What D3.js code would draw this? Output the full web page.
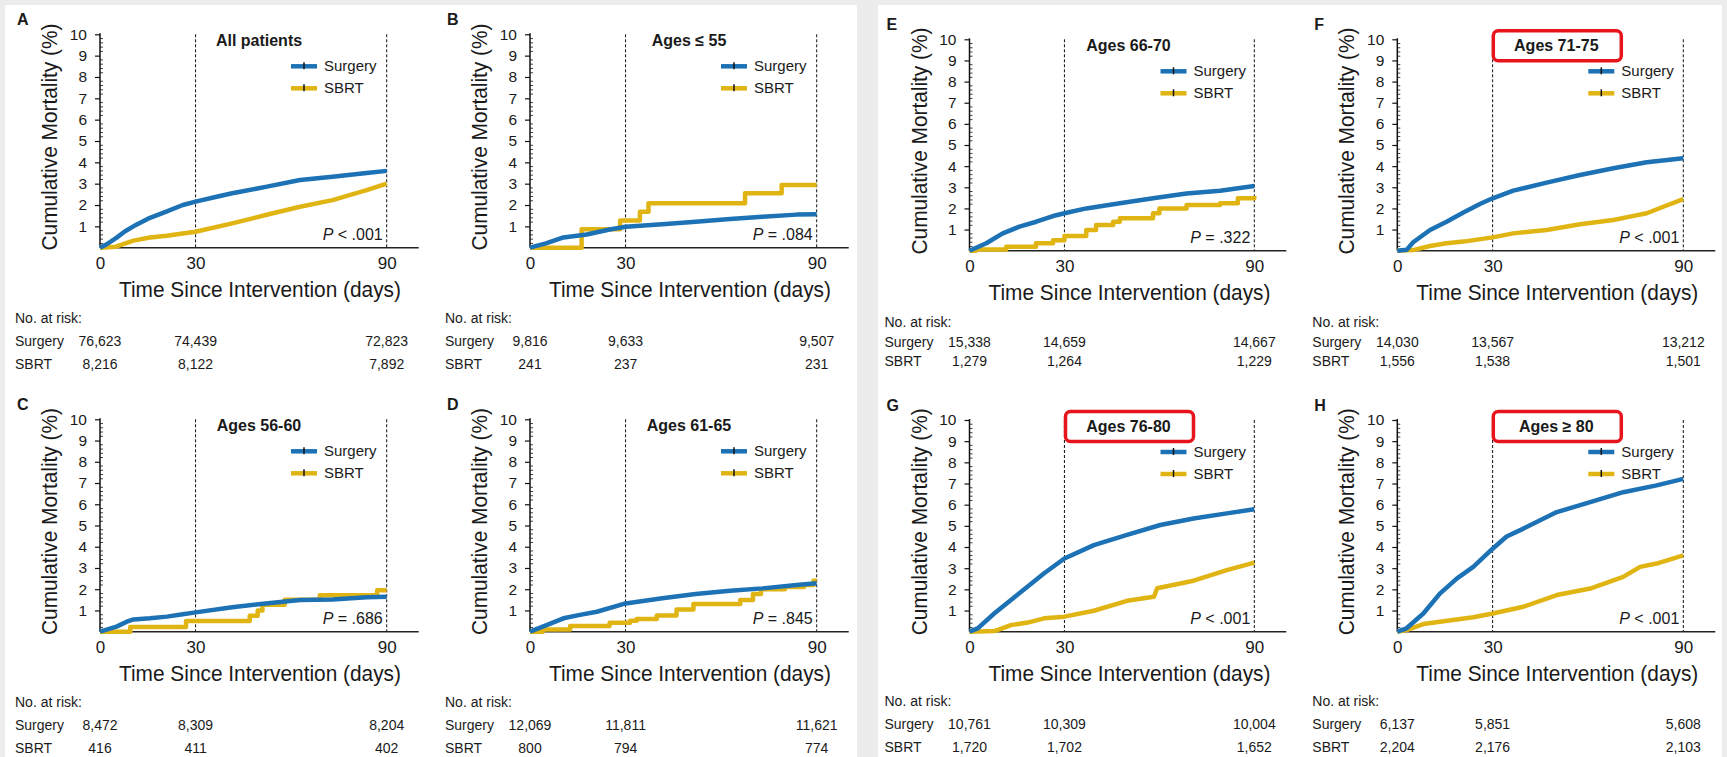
<!DOCTYPE html>
<html>
<head>
<meta charset="utf-8">
<script src="https://cdn.jsdelivr.net/npm/d3@7"></script>
<style>
  html, body { margin: 0; padding: 0; background: #ececec; }
  svg { display: block; }
  text { font-family: "Liberation Sans", Arial, Helvetica, sans-serif; fill: #1a1a1a; }
  .title-narrow { font-family: "Liberation Sans Narrow", "Arial Narrow", "Liberation Sans", Arial, sans-serif; }
</style>
</head>
<body>
<svg id="chart" width="1727" height="757"></svg>
<script>
// ---- Cumulative mortality (%) by day since intervention: [day, percent] ----
const aSurgery = [[0,0],[2,0.15],[5,0.45],[8,0.78],[10.5,1.0],[15.7,1.4],[21,1.7],[26,2.0],[30,2.16],[36.6,2.39],[41.5,2.55],[52,2.85],[62.8,3.17],[73,3.33],[83.7,3.5],[90,3.6]];
const aSbrt    = [[0,0],[5,0.05],[10.5,0.33],[15.7,0.48],[21,0.56],[26,0.67],[30,0.75],[41.5,1.14],[52,1.53],[62.8,1.92],[73,2.23],[83.7,2.7],[90,3.0]];

const bSurgery = [[0,0],[5,0.2],[10.5,0.48],[17.8,0.62],[25,0.85],[30,0.98],[41.5,1.1],[52,1.22],[62.8,1.34],[73,1.45],[83.7,1.55],[90,1.57]];
const bSbrt    = [[0,0],[16.2,0.86],[28.3,1.27],[34.5,1.69],[37.2,2.08],[67.5,2.55],[79,2.94],[90,2.94]];

const cSurgery = [[0,0],[5.2,0.24],[8.4,0.47],[10.5,0.58],[15.7,0.63],[21,0.71],[26,0.82],[30,0.91],[41.5,1.15],[52,1.33],[62.8,1.49],[73,1.52],[83.7,1.62],[90,1.65]];
const cSbrt    = [[0,0],[9.5,0.22],[27,0.5],[47,0.75],[49.5,1.0],[51,1.27],[58,1.5],[69,1.72],[87,1.95],[90,1.95]];

const dSurgery = [[0,0],[5.2,0.31],[10.5,0.63],[15.7,0.79],[21,0.94],[30,1.33],[41.5,1.57],[52,1.77],[62.8,1.93],[73,2.04],[83.7,2.2],[90,2.28]];
const dSbrt    = [[0,0],[4,0.1],[12.6,0.27],[25,0.42],[31.4,0.52],[33.5,0.6],[39.8,0.76],[46,1.05],[51.3,1.3],[66,1.49],[70,1.77],[72.5,2.0],[80,2.1],[86,2.2],[89,2.4],[90,2.4]];

const eSurgery = [[0,0],[5.3,0.35],[10.5,0.82],[15.8,1.14],[21.1,1.37],[26.4,1.64],[30,1.77],[36.9,2.0],[47.5,2.24],[58,2.48],[68.6,2.71],[79.2,2.84],[90,3.06]];
const eSbrt    = [[0,0],[2,0.06],[11.6,0.19],[21,0.35],[26.4,0.5],[30,0.69],[36.9,0.98],[40,1.21],[45.4,1.37],[47.5,1.53],[58,1.77],[60,2.0],[68.6,2.16],[79.2,2.24],[84.8,2.48],[90,2.59]];

const fSurgery = [[0,0],[3,0.05],[5,0.4],[10.3,0.98],[15.5,1.37],[20.8,1.81],[26,2.21],[30,2.48],[36.5,2.84],[47,3.22],[57.5,3.58],[68,3.9],[78.5,4.18],[90,4.37]];
const fSbrt    = [[0,0],[5,0.03],[10.3,0.22],[15.5,0.35],[20.8,0.43],[30,0.63],[36.5,0.82],[47,0.98],[57.5,1.25],[68,1.45],[73.2,1.61],[78.5,1.77],[83.7,2.08],[90,2.44]];

const gSurgery = [[0,0],[2.6,0.16],[7.9,0.87],[13.1,1.5],[18.4,2.13],[23.6,2.76],[30,3.46],[39.3,4.09],[49.8,4.57],[60.3,5.04],[70.8,5.35],[81.3,5.59],[90,5.78]];
const gSbrt    = [[0,0],[7.9,0.03],[13.1,0.31],[18.4,0.43],[23.6,0.63],[30,0.71],[39.3,0.99],[49.8,1.46],[58.3,1.65],[59.3,2.05],[70.8,2.41],[81.3,2.91],[90,3.26]];

const hSurgery = [[0,0],[2.9,0.16],[8.2,0.86],[13.4,1.8],[18.7,2.51],[23.9,3.06],[30,3.92],[34.4,4.5],[39.7,4.87],[50.2,5.65],[60.7,6.12],[71.1,6.59],[81.6,6.91],[90,7.22]];
const hSbrt    = [[0,0],[2.9,0.08],[8.2,0.36],[13.4,0.47],[18.7,0.58],[23.9,0.68],[30,0.86],[39.7,1.18],[50.2,1.73],[60.7,2.04],[71.1,2.59],[76.4,3.06],[81.6,3.22],[90,3.61]];

// ---- Panel labels, titles, P values ----
const panelLetters = ["A","B","C","D","E","F","G","H"];
const panelTitles  = ["All patients","Ages \u2264 55","Ages 56-60","Ages 61-65","Ages 66-70","Ages 71-75","Ages 76-80","Ages \u2265 80"];
const pValues      = ["< .001","= .084","= .686","= .845","= .322","< .001","< .001","< .001"];
const highlighted  = ["F","G","H"];

// ---- Numbers at risk at day 0, 30, 90 ----
const riskDays     = [0, 30, 90];
const riskSurgery  = [["76,623","74,439","72,823"],["9,816","9,633","9,507"],["8,472","8,309","8,204"],["12,069","11,811","11,621"],
                      ["15,338","14,659","14,667"],["14,030","13,567","13,212"],["10,761","10,309","10,004"],["6,137","5,851","5,608"]];
const riskSbrt     = [["8,216","8,122","7,892"],["241","237","231"],["416","411","402"],["800","794","774"],
                      ["1,279","1,264","1,229"],["1,556","1,538","1,501"],["1,720","1,702","1,652"],["2,204","2,176","2,103"]];

// ---- Axis ticks ----
const yTicks = [1,2,3,4,5,6,7,8,9,10];
const xTicks = [0,30,90];
const refLines = [30, 90];

const surgerySeries = [aSurgery,bSurgery,cSurgery,dSurgery,eSurgery,fSurgery,gSurgery,hSurgery];
const sbrtSeries    = [aSbrt,bSbrt,cSbrt,dSbrt,eSbrt,fSbrt,gSbrt,hSbrt];
const sbrtStepped   = [false,true,true,true,true,false,false,false];

// ---- Layout ----
const BLUE = "#1c72b4", GOLD = "#e0b513";
const layout = [
  {x0:100,   x1:386.7,  top:34.3, bottom:247.7},
  {x0:530,   x1:816.7,  top:34.3, bottom:247.7},
  {x0:100,   x1:386.7,  top:419.3, bottom:631.7},
  {x0:530,   x1:816.7,  top:419.3, bottom:631.7},
  {x0:969.5, x1:1254.3, top:39.3, bottom:250.7},
  {x0:1397.3,x1:1683.3, top:39.3, bottom:250.7},
  {x0:969.5, x1:1254.3, top:420,  bottom:631.7},
  {x0:1397.3,x1:1683.3, top:420,  bottom:631.7}
];
const riskOffsets = [[75,98,121],[75,98,121],[75,98,121],[75,98,121],[76,96,115],[76,96,115],[74,97,120],[74,97,120]];

const svg = d3.select("#chart");

// page background and the two white sheets
svg.append("rect").attr("width",1727).attr("height",757).attr("fill","#ececec");
svg.append("rect").attr("x",5).attr("y",5).attr("width",852).attr("height",752).attr("fill","#fff");
svg.append("rect").attr("x",878).attr("y",5).attr("width",844).attr("height",752).attr("fill","#fff");

layout.forEach((L, i) => {
  const g = svg.append("g");
  const x = d3.scaleLinear().domain([0, 90]).range([L.x0, L.x1]);
  const y = d3.scaleLinear().domain([0, 10]).range([L.bottom, L.top]);

  // panel letter
  g.append("text").attr("x", L.x0 - 83).attr("y", L.top - 9)
    .attr("font-size", 16).attr("font-weight", "bold").text(panelLetters[i]);

  // dashed reference lines at 30 and 90 days
  g.selectAll(".ref").data(refLines).enter().append("line")
    .attr("x1", d => x(d)).attr("x2", d => x(d))
    .attr("y1", y(10)).attr("y2", y(0))
    .attr("stroke", "#111").attr("stroke-width", 1).attr("stroke-dasharray", "3,2");

  // y axis: major ticks with labels, minor ticks every 0.2
  const yAxis = d3.axisLeft(y).tickValues(yTicks).tickSize(5).tickPadding(8).tickFormat(d3.format("d"));
  const ya = g.append("g").attr("transform", `translate(${L.x0},0)`).call(yAxis);
  ya.select(".domain").remove();
  ya.selectAll(".tick line").attr("stroke", "#111").attr("stroke-width", 1.2);
  ya.selectAll(".tick text").attr("font-size", 15.5).attr("fill", "#1a1a1a")
    .style("font-family", '"Liberation Sans", Arial, sans-serif');
  const minor = d3.range(1, 50).map(k => k * 0.2).filter(v => Math.abs(v - Math.round(v)) > 1e-6);
  g.selectAll(".minor").data(minor).enter().append("line")
    .attr("x1", L.x0).attr("x2", L.x0 + 3)
    .attr("y1", d => y(d)).attr("y2", d => y(d))
    .attr("stroke", "#111").attr("stroke-width", 0.8);
  g.append("line").attr("x1", L.x0).attr("x2", L.x0).attr("y1", y(10) - 1).attr("y2", y(0))
    .attr("stroke", "#111").attr("stroke-width", 1.5);

  // x axis
  const xAxis = d3.axisBottom(x).tickValues(xTicks).tickSize(0).tickPadding(9);
  const xa = g.append("g").attr("transform", `translate(0,${L.bottom})`).call(xAxis);
  xa.select(".domain").remove();
  xa.selectAll(".tick text").attr("font-size", 17).attr("fill", "#1a1a1a")
    .style("font-family", '"Liberation Sans", Arial, sans-serif');
  g.append("line").attr("x1", L.x0).attr("x2", L.x1 + 32).attr("y1", L.bottom).attr("y2", L.bottom)
    .attr("stroke", "#222").attr("stroke-width", 1.5);

  // axis titles (fixed width so the condensed look holds in any font)
  g.append("text").attr("class", "title-narrow")
    .attr("x", L.x0 + 19).attr("y", L.bottom + 49)
    .attr("font-size", 22.5).attr("textLength", 282).attr("lengthAdjust", "spacingAndGlyphs")
    .text("Time Since Intervention (days)");
  g.append("text").attr("class", "title-narrow")
    .attr("transform", `translate(${L.x0 - 43},${(L.top + L.bottom) / 2 - 4}) rotate(-90)`)
    .attr("x", -113.5)
    .attr("font-size", 22.5).attr("textLength", 227).attr("lengthAdjust", "spacingAndGlyphs")
    .text("Cumulative Mortality (%)");

  // curves
  const lineLinear = d3.line().x(d => x(d[0])).y(d => y(d[1]));
  const lineStep = d3.line().x(d => x(d[0])).y(d => y(d[1])).curve(d3.curveStepAfter);
  g.append("path").datum(sbrtSeries[i]).attr("d", sbrtStepped[i] ? lineStep : lineLinear)
    .attr("fill", "none").attr("stroke", GOLD).attr("stroke-width", 4.5).attr("stroke-linejoin", "round");
  g.append("path").datum(surgerySeries[i]).attr("d", lineLinear)
    .attr("fill", "none").attr("stroke", BLUE).attr("stroke-width", 4.5).attr("stroke-linejoin", "round");

  // title (boxed in red for the older age groups)
  const tx = L.x0 + 159, ty = L.top + 12;
  if (highlighted.includes(panelLetters[i])) {
    g.append("rect").attr("x", L.x0 + 96).attr("y", L.top - 8.5).attr("width", 128).attr("height", 30)
      .attr("rx", 5).attr("fill", "#fff").attr("stroke", "#e8141c").attr("stroke-width", 3.5);
  }
  g.append("text").attr("x", tx).attr("y", ty).attr("text-anchor", "middle")
    .attr("font-size", 16).attr("font-weight", "bold").text(panelTitles[i]);

  // legend
  const legend = [["Surgery", BLUE, 32], ["SBRT", GOLD, 54]];
  legend.forEach(([name, col, dy]) => {
    const ly = L.top + dy;
    g.append("line").attr("x1", L.x0 + 191).attr("x2", L.x0 + 217).attr("y1", ly).attr("y2", ly)
      .attr("stroke", col).attr("stroke-width", 4.5);
    g.append("line").attr("x1", L.x0 + 204).attr("x2", L.x0 + 204).attr("y1", ly - 4).attr("y2", ly + 3)
      .attr("stroke", "#111").attr("stroke-width", 1.5);
    g.append("text").attr("x", L.x0 + 224).attr("y", ly + 5).attr("font-size", 15).text(name);
  });

  // P value
  const pt = g.append("text").attr("x", L.x1 - 4).attr("y", L.bottom - 8)
    .attr("text-anchor", "end").attr("font-size", 16);
  pt.append("tspan").attr("font-style", "italic").text("P");
  pt.append("tspan").text(" " + pValues[i]);

  // numbers at risk
  const [r0, r1, r2] = riskOffsets[i];
  g.append("text").attr("x", L.x0 - 85).attr("y", L.bottom + r0).attr("font-size", 14).text("No. at risk:");
  g.append("text").attr("x", L.x0 - 85).attr("y", L.bottom + r1).attr("font-size", 14).text("Surgery");
  g.append("text").attr("x", L.x0 - 85).attr("y", L.bottom + r2).attr("font-size", 14).text("SBRT");
  riskDays.forEach((d, k) => {
    g.append("text").attr("x", x(d)).attr("y", L.bottom + r1).attr("text-anchor", "middle")
      .attr("font-size", 14).text(riskSurgery[i][k]);
    g.append("text").attr("x", x(d)).attr("y", L.bottom + r2).attr("text-anchor", "middle")
      .attr("font-size", 14).text(riskSbrt[i][k]);
  });
});
</script>
</body>
</html>
